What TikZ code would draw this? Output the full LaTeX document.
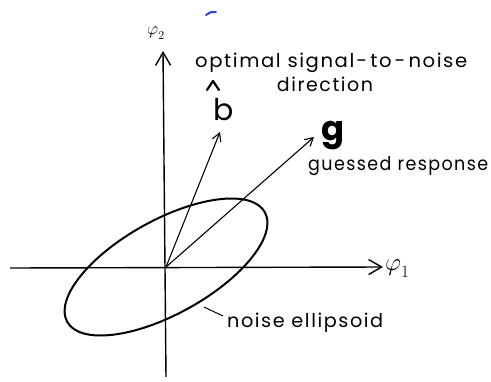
\documentclass[tikz,border=0pt]{standalone}
\usepackage{fontspec}
\usepackage{graphicx}
\newfontfamily\lett[LetterSpace=8]{Poppins}
\usetikzlibrary{arrows.meta}
\definecolor{penblue}{RGB}{40,70,220}
\newcommand{\fitw}[2]{\resizebox{#1}{\height}{#2}}
\begin{document}
\begin{tikzpicture}[x=1pt,y=-1pt,
  axis/.style={line width=1.4pt, -{Straight Barb[length=13pt,width=15pt,line width=1.4pt]}},
  vec/.style={line width=1.1pt, -{Straight Barb[length=8pt,width=9pt,line width=1.1pt]}},
  lbl/.style={inner sep=0pt, font=\lett\fontsize{19}{22}\selectfont, anchor=base west},
  big/.style={inner sep=0pt, anchor=base west},
  phi/.style={inner sep=0pt, anchor=base west}]
\useasboundingbox (0,0) rectangle (491,381);
\coordinate (O) at (166,267);
\coordinate (xl) at (10,268);
\coordinate (xr) at (383,267);
\coordinate (yb) at (166,377);
\coordinate (yt) at (163,51);
\coordinate (bt) at (220,132);
\coordinate (gt) at (314,137);
% axes
\draw[axis] (xl) -- (xr);
\draw[axis] (yb) -- (yt);
% ellipse
\draw[line width=2pt, rotate around={29:(O)}] (O) ellipse [x radius=113pt, y radius=47pt];
% vectors
\draw[vec] (O) -- (bt);
\draw[vec] (O) -- (gt);
% labels
\node[phi] (p1) at (385,270) {\fontsize{23}{25}\selectfont$\varphi_{\lower4pt\hbox{$\scriptstyle 1$}}$};
\node[phi] (p2) at (147,34) {\fontsize{17}{20}\selectfont$\varphi_{\lower3pt\hbox{$\scriptstyle 2$}}$};
\node[lbl] (t1) at (195,67) {\fitw{272pt}{optimal signal\kern2pt-\kern3pt to\kern3pt-\kern3pt noise}};
\node[lbl, anchor=base] (t2) at (325,91.5) {\fitw{96pt}{direction}};
\node[big] (b) at (213,120) {\lett\fontsize{30}{32}\selectfont b};
\draw[line width=2.2pt, line cap=round, line join=round] (207,90) -- (213,81) -- (219,90);
\node[big] (g) at (321,140) {\lett\bfseries\fontsize{34}{36}\selectfont g};
\node[lbl] (t3) at (308,170) {\fitw{180pt}{guessed response}};
\node[lbl] (t4) at (227,327) {\fitw{156pt}{noise ellipsoid}};
\coordinate (l1) at (204,307);
\coordinate (l2) at (223,316);
\draw[line width=1pt] (l1) -- (l2);
% pen mark
\draw[penblue, line width=2pt, line cap=round] (206,15) -- (211,12) -- (216,12);
\end{tikzpicture}
\end{document}
